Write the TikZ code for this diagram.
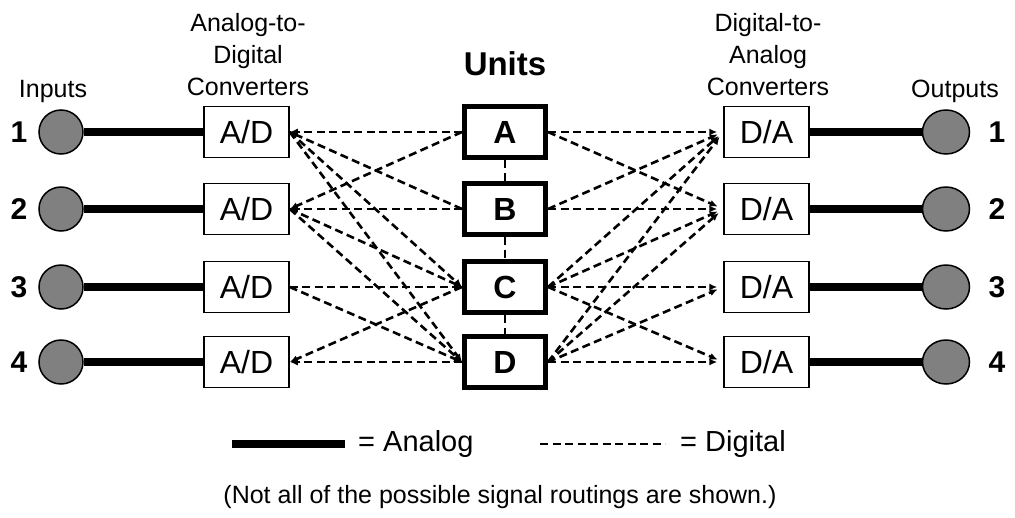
\documentclass[tikz,border=0pt]{standalone}
\usepackage{fontspec}
\setmainfont{Liberation Sans}
\usetikzlibrary{arrows.meta,shapes.geometric}
\definecolor{jackgray}{RGB}{128,128,128}
\begin{document}
\begin{tikzpicture}[x=1pt,y=-1pt,
  lbl/.style={font=\fontsize{25}{32}\selectfont, align=center, inner sep=0pt},
  leg/.style={font=\fontsize{29}{33}\selectfont, inner sep=0pt},
  num/.style={font=\fontsize{30}{34}\selectfont\bfseries, inner sep=0pt},
  conv/.style={draw, line width=1.5pt, minimum width=85pt, minimum height=51pt, inner sep=0pt, font=\fontsize{32}{36}\selectfont},
  unitbox/.style={draw, line width=5pt, minimum width=81pt, minimum height=51pt, inner sep=0pt, font=\fontsize{32}{36}\selectfont\bfseries},
  jackin/.style={circle, draw, line width=1.5pt, fill=jackgray, minimum size=44pt, inner sep=0pt},
  jackout/.style={ellipse, draw, line width=1.5pt, fill=jackgray, minimum width=47pt, minimum height=44pt, inner sep=0pt},
  analog/.style={line width=8pt},
  digital/.style={line width=2.6pt, dash pattern=on 8pt off 4.5pt},
  arr/.style={-{Latex[length=8pt,width=7pt]}}
]
\useasboundingbox (0,0) rectangle (1015,517);

% headers
\node[lbl, anchor=base] (hin) at (53,97) {Inputs};
\node[lbl, anchor=north] (had) at (248,13) {Analog-to-\\Digital\\Converters};
\node[font=\fontsize{33}{36}\selectfont\bfseries, inner sep=0pt] (hunits) at (505,64) {Units};
\node[lbl, anchor=north] (hda) at (768,13) {Digital-to-\\Analog\\Converters};
\node[lbl, anchor=base] (hout) at (955,97) {Outputs};

% rows
\foreach \i/\y in {1/132,2/209,3/287,4/362}{
  \node[num] (nin\i) at (19,\y) {\i};
  \node[jackin] (in\i) at (61,\y) {};
  \node[conv] (ad\i) at (246.5,\y) {A/D};
  \node[conv] (da\i) at (766.5,\y) {D/A};
  \node[jackout] (out\i) at (946,\y) {};
  \node[num] (nout\i) at (997,\y) {\i};
  \draw[analog] (in\i.east) -- (ad\i.west);
  \draw[analog] (da\i.east) -- (out\i.west);
}
\node[unitbox] (ua) at (505,132) {A};
\node[unitbox] (ub) at (505,209) {B};
\node[unitbox] (uc) at (505,287) {C};
\node[unitbox] (ud) at (505,362) {D};

% links between units
\draw[digital] (ua.south) -- (ub.north);
\draw[digital] (ub.south) -- (uc.north);
\draw[digital] (uc.south) -- (ud.north);

% left side digital routings
\draw[digital,arr] (ua.west) -- (ad1.east);
\draw[digital,arr] (ub.west) -- (ad1.east);
\draw[digital,arr] (ad1.east) -- (uc.west);
\draw[digital,arr] (ad1.east) -- (ud.west);
\draw[digital,arr] (ua.west) -- (ad2.east);
\draw[digital,arr] (ub.west) -- (ad2.east);
\draw[digital,arr] (ad2.east) -- (uc.west);
\draw[digital,arr] (ad2.east) -- (ud.west);
\draw[digital,arr] (ad3.east) -- (uc.west);
\draw[digital,arr] (ad3.east) -- (ud.west);
\draw[digital,arr] (uc.west) -- (ad4.east);
\draw[digital,arr] (ud.west) -- (ad4.east);

% right side digital routings
\foreach \s/\t in {ua/da1,ua/da2,ub/da1,ub/da2,uc/da1,uc/da2,uc/da3,uc/da4,ud/da1,ud/da2,ud/da3,ud/da4}{
  \draw[digital,arr,shorten >=6pt] (\s.east) -- (\t.west);
}

% legend
\coordinate (la1) at (232,444);
\coordinate (la2) at (345,444);
\draw[analog] (la1) -- (la2);
\node[leg, anchor=west] (lat) at (358,444) {= Analog};
\coordinate (ld1) at (540,444);
\coordinate (ld2) at (665,444);
\draw[digital] (ld1) -- (ld2);
\node[leg, anchor=west] (ldt) at (680,444) {= Digital};

\node[lbl] (foot) at (500,497) {(Not all of the possible signal routings are shown.)};
\end{tikzpicture}
\end{document}
